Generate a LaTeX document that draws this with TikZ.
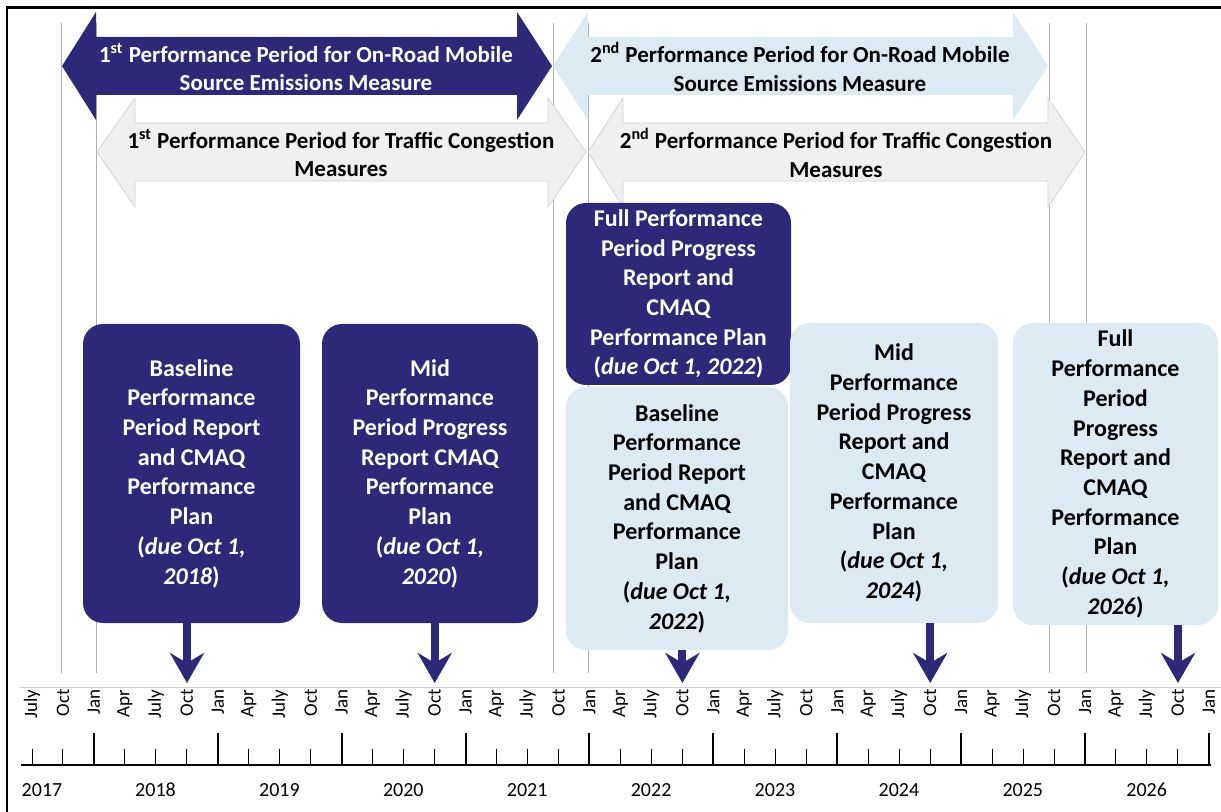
\documentclass[tikz,border=0pt]{standalone}
\usepackage{fontspec}
\setmainfont{Carlito}
\usetikzlibrary{arrows.meta}

\definecolor{navy}{RGB}{45,41,120}
\definecolor{paleblue}{RGB}{219,234,243}
\definecolor{palegray}{RGB}{240,240,240}
\definecolor{edgegray}{RGB}{212,212,212}
\definecolor{rulegray}{RGB}{175,175,175}

\begin{document}
\begin{tikzpicture}[x=0.5pt, y=-0.5pt,
    bandtext/.style={align=center, inner sep=0pt, font=\bfseries\fontsize{11.5pt}{14.3pt}\selectfont},
    duebox/.style={rounded corners=10pt, align=center, inner sep=0pt, font=\bfseries\fontsize{12pt}{14.85pt}\selectfont},
    navybox/.style={duebox, fill=navy, text=white},
    bluebox/.style={duebox, fill=paleblue, text=black},
    duearrow/.style={navy, line width=4pt, -{Stealth[length=15pt, width=17pt, inset=5pt]}},
    mon/.style={rotate=90, anchor=east, inner sep=0pt, font=\fontsize{9.5pt}{10pt}\selectfont},
    yr/.style={inner sep=0pt, font=\fontsize{10pt}{11pt}\selectfont}]
  \useasboundingbox (0,0) rectangle (1221,812);
  \fill[white] (0,0) rectangle (1221,812);
  % frame
  \draw[line width=1.2pt] (7,812) -- (7,7.5) -- (1221,7.5);
  % period boundaries
  \foreach \x in {61,96,553,588,1049,1086}
    \draw[rulegray, line width=0.5pt] (\x,23) -- (\x,673);
  % traffic congestion periods
  \filldraw[fill=palegray, draw=edgegray, line width=0.4pt] (97,152) -- (135,98) -- (135,123) -- (548,123) -- (548,98) -- (586,152) -- (548,207) -- (548,181) -- (135,181) -- (135,207) -- cycle;
  \filldraw[fill=palegray, draw=edgegray, line width=0.4pt] (588,152) -- (623,98) -- (623,123) -- (1048,123) -- (1048,98) -- (1085,152) -- (1048,207) -- (1048,181) -- (623,181) -- (623,207) -- cycle;
  % on-road mobile source periods
  \fill[navy] (62,66) -- (96,12) -- (96,37) -- (517,37) -- (517,12) -- (552,66) -- (517,120) -- (517,95) -- (96,95) -- (96,120) -- cycle;
  \fill[paleblue] (553,66) -- (588,12) -- (588,37) -- (1013,37) -- (1013,12) -- (1048,66) -- (1013,120) -- (1013,95) -- (588,95) -- (588,120) -- cycle;
  \node[bandtext, text=white] (road1) at (306,67) {1\textsuperscript{st} Performance Period for On-Road Mobile\\Source Emissions Measure};
  \node[bandtext] (road2) at (800,67) {2\textsuperscript{nd} Performance Period for On-Road Mobile\\Source Emissions Measure};
  \node[bandtext] (cong1) at (341,153) {1\textsuperscript{st} Performance Period for Traffic Congestion\\Measures};
  \node[bandtext] (cong2) at (836,153) {2\textsuperscript{nd} Performance Period for Traffic Congestion\\Measures};

  % report boxes
  \node[navybox, minimum width=108.5pt, minimum height=149.5pt] (base18) at (191.5,473.5) {Baseline\\Performance\\Period Report\\and CMAQ\\Performance\\Plan\\(\textit{due Oct 1,}\\\textit{2018})};
  \node[navybox, minimum width=108pt, minimum height=149.5pt] (mid20) at (430,473.5) {Mid\\Performance\\Period Progress\\Report CMAQ\\Performance\\Plan\\(\textit{due Oct 1,}\\\textit{2020})};
  \node[bluebox, minimum width=111pt, minimum height=131.5pt] (base22) at (677,518.5) {Baseline\\Performance\\Period Report\\and CMAQ\\Performance\\Plan\\(\textit{due Oct 1,}\\\textit{2022})};
  \node[navybox, minimum width=112.5pt, minimum height=91pt] (full22) at (678.5,294) {Full Performance\\Period Progress\\Report and\\CMAQ\\Performance Plan\\(\textit{due Oct 1, 2022})};
  \node[bluebox, minimum width=104pt, minimum height=150pt] (mid24) at (894,473) {Mid\\Performance\\Period Progress\\Report and\\CMAQ\\Performance\\Plan\\(\textit{due Oct 1,}\\\textit{2024})};
  \node[bluebox, minimum width=102.5pt, minimum height=151pt] (full26) at (1115.5,474) {Full\\Performance\\Period\\Progress\\Report and\\CMAQ\\Performance\\Plan\\(\textit{due Oct 1,}\\\textit{2026})};

  % due dates on the time line
  \coordinate (oct18) at (187,683);
  \coordinate (oct20) at (434.7,683);
  \coordinate (oct22) at (682.4,683);
  \coordinate (oct24) at (930.2,683);
  \coordinate (oct26) at (1178,683);
  \draw[duearrow] (base18.south -| oct18) -- (oct18);
  \draw[duearrow] (mid20.south -| oct20) -- (oct20);
  \draw[duearrow] (base22.south -| oct22) -- (oct22);
  \draw[duearrow] (mid24.south -| oct24) -- (oct24);
  \draw[duearrow] (full26.south -| oct26) -- (oct26);

  % time line
  \draw[rulegray!60, line width=0.5pt] (20,687) -- (1221,687);
  \draw[line width=1pt] (21,765) -- (1211,765);
  \foreach \i in {0,...,38} {
    \pgfmathtruncatemacro\k{mod(\i,4)}
    \node[mon] (m\i) at ({32+\i*30.97},689) {\ifcase\k July\or Oct\or Jan\or Apr\fi};
    \ifnum\k=2
      \draw[line width=1pt] ({32+\i*30.97},733) -- ({32+\i*30.97},765);
    \else
      \draw[line width=0.5pt] ({32+\i*30.97},749) -- ({32+\i*30.97},765);
    \fi
  }
  \node[yr] (y2017) at (42,790) {2017};
  \foreach \y [count=\n from 0] in {2018,...,2026}
    \node[yr] (y\y) at ({155.5+\n*123.9},790) {\y};
\end{tikzpicture}
\end{document}
